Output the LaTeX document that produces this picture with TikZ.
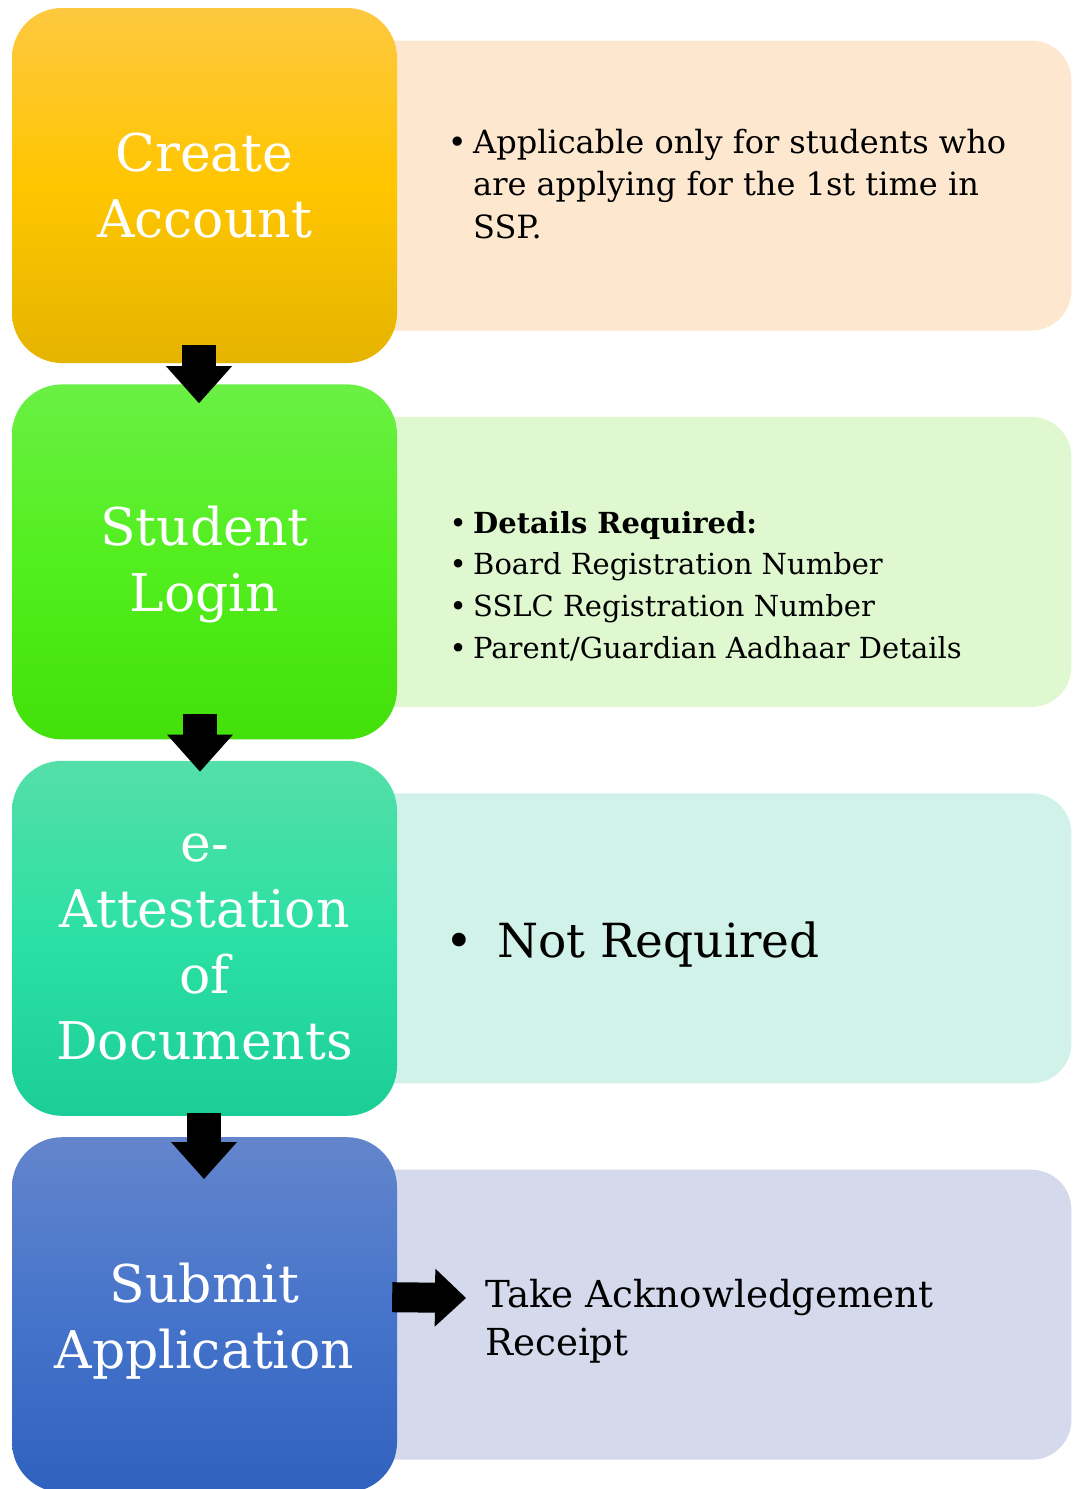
\documentclass[tikz,border=0pt]{standalone}
\usepackage{fontspec}
\setmainfont{DejaVu Serif}
\usetikzlibrary{positioning,arrows.meta,backgrounds}

\definecolor{caTop}{HTML}{FEC840}
\definecolor{caMid}{HTML}{FFC600}
\definecolor{caBot}{HTML}{E5B400}
\definecolor{slTop}{HTML}{6AF044}
\definecolor{slMid}{HTML}{52EE1E}
\definecolor{slBot}{HTML}{44E00A}
\definecolor{eaTop}{HTML}{54DFA8}
\definecolor{eaMid}{HTML}{2BE0A4}
\definecolor{eaBot}{HTML}{1BCE96}
\definecolor{saTop}{HTML}{6385CC}
\definecolor{saMid}{HTML}{4674CB}
\definecolor{saBot}{HTML}{2F61BE}
\definecolor{caNote}{HTML}{FDE8CF}
\definecolor{slNote}{HTML}{DFF8D0}
\definecolor{eaNote}{HTML}{D1F2E9}
\definecolor{saNote}{HTML}{D4D9EC}

\newcommand{\bul}[1]{\makebox[#1]{\textbullet}}

\begin{document}
\begin{tikzpicture}[x=1pt, y=1pt,
        stepbox/.style={rounded corners=50pt, minimum width=385pt, minimum height=355pt,
            inner sep=0pt, text=white, align=center, font=\fontsize{52}{66}\selectfont}, % the big coloured steps
        notebox/.style={rounded corners=40pt, minimum width=731pt, minimum height=290pt, inner sep=0pt}, % pale boxes behind
        notetext/.style={anchor=base west, inner sep=0pt, align=left},
        downarrow/.style={line width=34pt, -{Triangle[length=37pt,width=66pt,line width=0pt]}},
        sidearrow/.style={line width=30pt, -{Triangle[length=31pt,width=58pt,line width=0pt]}},
    ]
    \useasboundingbox (0,0) rectangle (1072,-1489);

    \node[stepbox, top color=caTop, bottom color=caBot, middle color=caMid] (create) at (204.5,-185.5) {Create\\Account};
    \node[stepbox, top color=slTop, bottom color=slBot, middle color=slMid, below=21pt of create] (login) {\rule{0pt}{45pt}Student\\Login};
    \node[stepbox, top color=eaTop, bottom color=eaBot, middle color=eaMid, below=21pt of login] (attest) {\rule{0pt}{46pt}e-\\Attestation\\of\\Documents};
    \node[stepbox, top color=saTop, bottom color=saBot, middle color=saMid, below=21pt of attest] (submit) {\rule{0pt}{52pt}Submit\\Application};

    \begin{scope}[on background layer]
        \node[notebox, fill=caNote, right=-57pt of create] (createnote) {};
        \node[notebox, fill=slNote, right=-57pt of login] (loginnote) {};
        \node[notebox, fill=eaNote, right=-57pt of attest] (attestnote) {};
        \node[notebox, fill=saNote, right=-57pt of submit] (submitnote) {};
    \end{scope}

    \node[notetext, font=\fontsize{32}{42.5}\selectfont] (createtext) at (441,-153)
        {\begin{tabular}[t]{@{}l@{}l@{}}
            \bul{32pt} & Applicable only for students who\\
            & are applying for the 1st time in\\
            & SSP.
        \end{tabular}};
    \node[notetext, font=\fontsize{29}{41.7}\selectfont] (logintext) at (443,-533)
        {\begin{tabular}[t]{@{}l@{}l@{}}
            \bul{30pt} & \textbf{Details Required:}\\
            \bul{30pt} & Board Registration Number\\
            \bul{30pt} & SSLC Registration Number\\
            \bul{30pt} & Parent/Guardian Aadhaar Details
        \end{tabular}};
    \node[notetext, font=\fontsize{47}{56}\selectfont] (attesttext) at (421,-957) {\bul{76pt}Not Required};
    \node[notetext, font=\fontsize{37.2}{48}\selectfont] (submittext) at (485,-1307)
        {\begin{tabular}[t]{@{}l@{}}
            Take Acknowledgement\\
            Receipt
        \end{tabular}};

    \coordinate (acktip) at (466,-1298);
    \draw[downarrow] ([shift={(-5.5pt,18pt)}]create.south) -- ([shift={(-5.5pt,-19pt)}]login.north);
    \draw[downarrow] ([shift={(-4.5pt,26pt)}]login.south) -- ([shift={(-4.5pt,-11pt)}]attest.north);
    \draw[downarrow] ([shift={(-0.5pt,3pt)}]attest.south) -- ([shift={(-0.5pt,-42pt)}]submit.north);
    \draw[sidearrow] ([shift={(-5pt,17.5pt)}]submit.east) -- (acktip);
\end{tikzpicture}
\end{document}
